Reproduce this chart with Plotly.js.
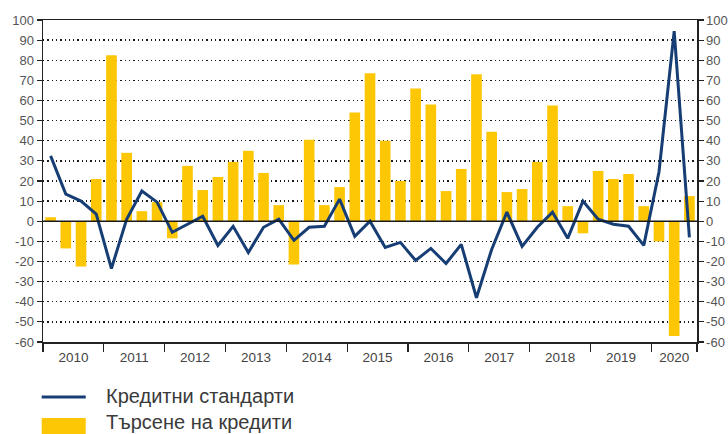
<!DOCTYPE html>
<html>
<head>
<meta charset="utf-8">
<script src="https://cdn.plot.ly/plotly-3.0.1.min.js"></script>
<style>html,body{margin:0;padding:0;background:#fff;}#chart{width:728px;height:434px;}</style>
</head>
<body>
<div id="chart"></div>
<script>
const quarters = [
  "2010Q1","2010Q2","2010Q3","2010Q4","2011Q1","2011Q2","2011Q3","2011Q4",
  "2012Q1","2012Q2","2012Q3","2012Q4","2013Q1","2013Q2","2013Q3","2013Q4",
  "2014Q1","2014Q2","2014Q3","2014Q4","2015Q1","2015Q2","2015Q3","2015Q4",
  "2016Q1","2016Q2","2016Q3","2016Q4","2017Q1","2017Q2","2017Q3","2017Q4",
  "2018Q1","2018Q2","2018Q3","2018Q4","2019Q1","2019Q2","2019Q3","2019Q4",
  "2020Q1","2020Q2","2020Q3"
];
const creditDemand = [2, -13.5, -22.5, 21, 82.5, 34, 5, 9.5, -8.5, 27.5, 15.5, 22, 29.5, 35, 24, 8,
  -21.5, 40.5, 8, 17, 54, 73.5, 40, 20, 66, 58, 15, 26, 73, 44.5, 14.5, 16,
  29.5, 57.5, 7.5, -6, 25, 21, 23.5, 7.5, -10, -57, 12.5];
const creditStandards = [32.5, 13.5, 10, 3.5, -23.5, 1, 15, 9.5, -5.5, -1.5, 2.5, -12, -2.5, -15.5, -3, 1,
  -9.5, -3, -2.5, 11, -7.5, 0, -13, -10.5, -19.5, -13.5, -21, -11.5, -38, -14, 4.5, -12.5,
  -3, 4.5, -8.5, 10, 1, -1.5, -2.5, -12, 24.5, 94.5, -8];
const seriesNames = ["Кредитни стандарти", "Търсене на кредити"];
const yTickVals = [100, 90, 80, 70, 60, 50, 40, 30, 20, 10, 0, -10, -20, -30, -40, -50, -60];

const FONT = "'Liberation Sans Narrow', 'Arial Narrow', 'Liberation Sans', Arial, sans-serif";
const xIdx = quarters.map((q, i) => i);
const years = [];
const yearCenters = [];
const yearBounds = [-0.5];
quarters.forEach((q, i) => {
  const y = q.slice(0, 4);
  if (!years.includes(y)) { years.push(y); if (i > 0) yearBounds.push(i - 0.5); }
});
yearBounds.push(quarters.length - 0.5);
years.forEach(y => {
  const idx = xIdx.filter(i => quarters[i].startsWith(y));
  yearCenters.push((idx[0] + idx[idx.length - 1]) / 2);
});

const barColor = "#FEC705";
const lineColor = "#173E74";

const traces = [
  {type: "bar", x: xIdx, y: creditDemand, name: seriesNames[1], marker: {color: barColor}, hoverinfo: "skip"},
  {type: "scatter", mode: "lines", x: xIdx, y: creditStandards, name: seriesNames[0],
   line: {color: lineColor, width: 3}, hoverinfo: "skip"},
  {type: "scatter", mode: "lines", x: [0], y: [0], xaxis: "x2", yaxis: "y2", showlegend: false,
   line: {width: 0}, hoverinfo: "skip", opacity: 0}
];

const plotL = 43.3, plotR = 696.7, plotT = 19.5, plotB = 342;
const W = 728, H = 434;
const pw = plotR - plotL, ph = plotB - plotT;
const px = X => (X - plotL) / pw;
const py = Y => (plotB - Y) / ph;

const layout = {
  width: W, height: H,
  margin: {l: plotL, r: W - plotR, t: plotT, b: H - plotB, pad: 0},
  paper_bgcolor: "#fff", plot_bgcolor: "#fff",
  showlegend: false,
  bargap: 0.3,
  font: {family: FONT, color: "#444", size: 13},
  xaxis: {
    range: [-0.5, quarters.length - 0.5], type: "linear",
    tickvals: yearBounds, ticktext: yearBounds.map(() => ""),
    ticks: "outside", ticklen: 8, tickcolor: "#222", tickwidth: 1.2,
    showline: true, linecolor: "#222", linewidth: 1.5, mirror: true,
    showgrid: false, zeroline: false, fixedrange: true
  },
  xaxis2: {
    overlaying: "x", side: "bottom", range: [-0.5, quarters.length - 0.5], type: "linear",
    tickvals: yearCenters, ticktext: years, ticks: "", ticklen: 0, ticklabelstandoff: 5,
    showline: false, showgrid: false, zeroline: false,
    tickfont: {family: FONT, size: 13.5, color: "#444"}, anchor: "y"
  },
  yaxis: {
    range: [-60, 100], tickvals: yTickVals, ticktext: yTickVals.map(String),
    ticks: "outside", ticklen: 5, tickcolor: "#222", tickwidth: 1.2,
    showline: true, linecolor: "#222", linewidth: 1.5,
    showgrid: true, gridcolor: "#1a1a1a", gridwidth: 1.3, griddash: "1.3px,3px",
    zeroline: false,
    tickfont: {family: FONT, size: 13, color: "#555"}, fixedrange: true
  },
  yaxis2: {
    overlaying: "y", side: "right", range: [-60, 100], tickvals: yTickVals, ticktext: yTickVals.map(String),
    ticks: "outside", ticklen: 5, tickcolor: "#222", tickwidth: 1.2,
    showline: true, linecolor: "#222", linewidth: 1.5, showgrid: false, zeroline: false,
    tickfont: {family: FONT, size: 13, color: "#555"}, fixedrange: true
  },
  shapes: [
    {type: "line", xref: "paper", yref: "y", x0: 0, x1: 1, y0: 0, y1: 0, layer: "above",
     line: {color: "#1a1a1a", width: 1.5}},
    {type: "line", xref: "paper", yref: "paper", x0: px(42), x1: px(86), y0: py(397), y1: py(397),
     line: {color: lineColor, width: 3}},
    {type: "rect", xref: "paper", yref: "paper", x0: px(42), x1: px(86), y0: py(418), y1: py(436),
     fillcolor: barColor, line: {width: 0}}
  ],
  annotations: [
    {xref: "paper", yref: "paper", x: px(104), y: py(396), xanchor: "left", yanchor: "middle",
     text: seriesNames[0], showarrow: false, font: {family: FONT, size: 20, color: "#3a3a3a"}},
    {xref: "paper", yref: "paper", x: px(104), y: py(422), xanchor: "left", yanchor: "middle",
     text: seriesNames[1], showarrow: false, font: {family: FONT, size: 20, color: "#3a3a3a"}}
  ]
};

Plotly.newPlot("chart", traces, layout, {staticPlot: true, displayModeBar: false});
</script>
</body>
</html>
